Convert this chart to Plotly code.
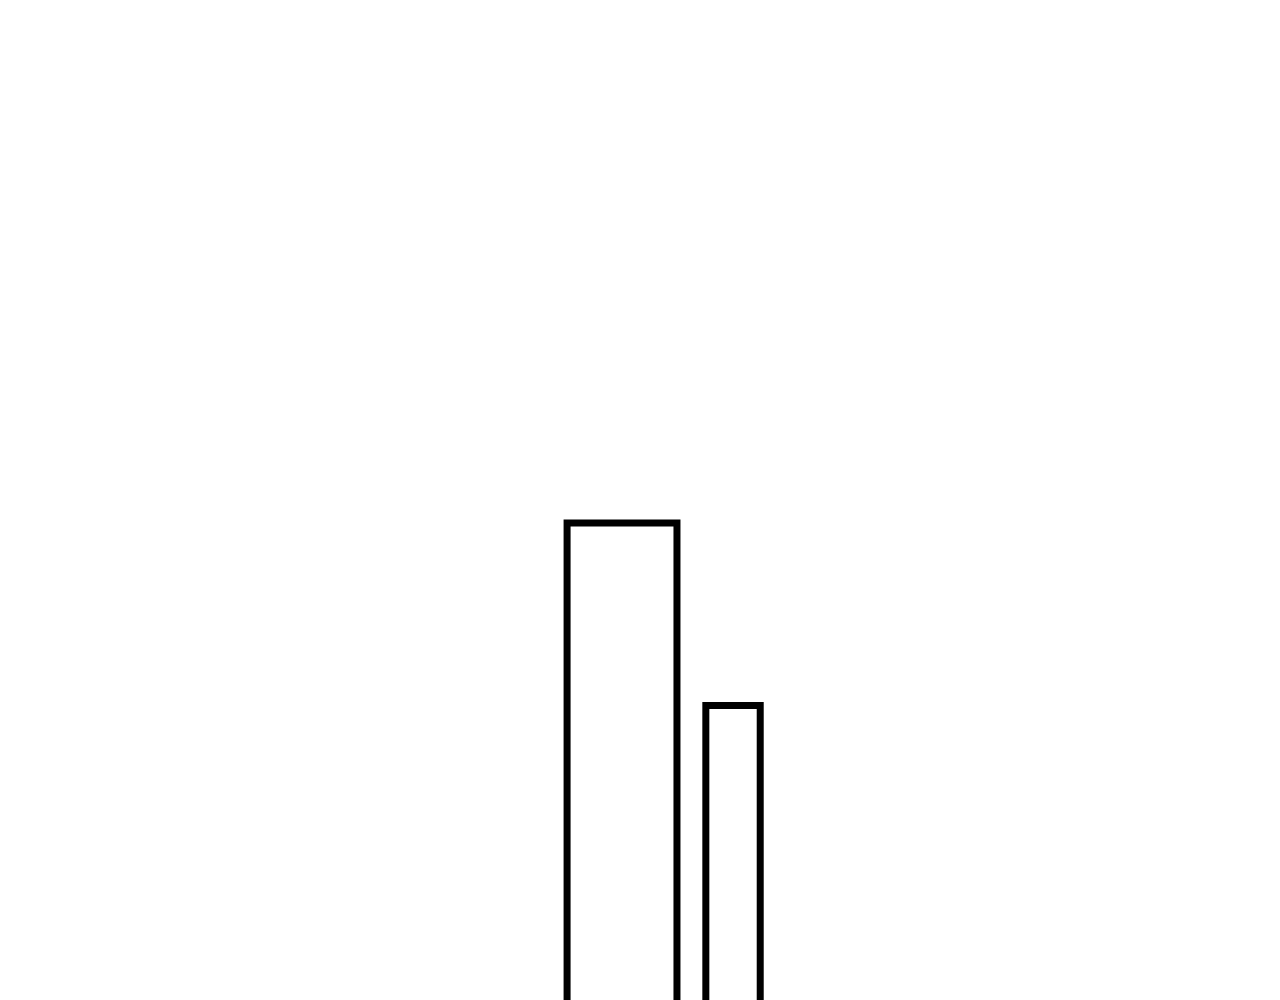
import plotly.graph_objects as go

# bar values
categories = ["A", "B"]
values = [20, 14]

bar_widths = [0.99, 0.49]

fig = go.Figure(
    go.Bar(
        x=categories,
        y=values,
        width=bar_widths,
        marker=dict(color="white", line=dict(color="black", width=7)),
    )
)

fig.update_layout(
    width=1280,
    height=1000,
    margin=dict(l=0, r=0, t=0, b=0),
    paper_bgcolor="white",
    plot_bgcolor="white",
    showlegend=False,
)
# page body adds ~8px offset, ranges compensate for it
fig.update_xaxes(visible=False, range=[-5.532, 6.0])
fig.update_yaxes(visible=False, range=[4.05, 36.93])

fig.write_html("out.html")
